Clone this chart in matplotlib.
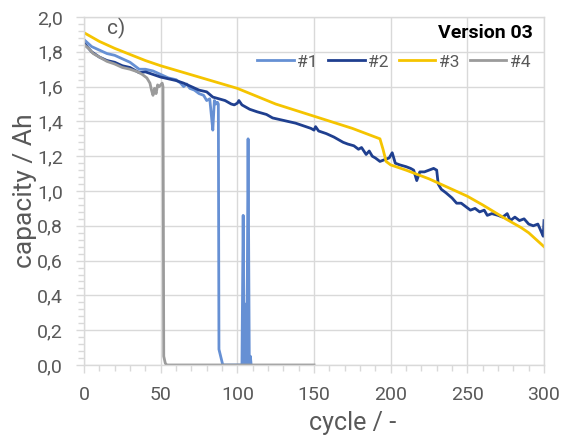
import numpy as np
import matplotlib
matplotlib.use("Agg")
from matplotlib import pyplot as plt
from matplotlib.ticker import MultipleLocator, FuncFormatter

# cell #1 (light blue)
c1_cycle = [0, 5, 10, 15, 20, 25, 30, 36, 40, 45, 50, 55, 60, 63, 65, 67, 69, 72, 75, 78,
            80, 82, 83, 84, 85, 86, 87, 87.6, 88, 90.5, 103, 103.8, 104.5, 105.5, 106.2,
            107, 107.8, 108.5, 109]
c1_cap = [1.87, 1.83, 1.81, 1.79, 1.78, 1.76, 1.74, 1.70, 1.70, 1.69, 1.67, 1.65, 1.64,
          1.62, 1.60, 1.615, 1.59, 1.58, 1.56, 1.55, 1.52, 1.53, 1.44, 1.35, 1.52, 1.50,
          1.51, 1.50, 0.09, 0.0, 0.0, 0.86, 0.0, 0.35, 0.0, 1.30, 0.0, 0.05, 0.0]

# cell #2 (dark blue)
c2_cycle = [0, 5, 10, 15, 20, 25, 30, 36, 40, 45, 50, 55, 60, 65, 70, 75, 80, 84, 88, 92,
            96, 98, 100, 101, 103, 108, 113, 119, 123, 128, 133, 138, 143, 148, 150, 151,
            153, 158, 163, 169, 172, 176, 179, 181, 184, 186, 188, 190, 193, 196, 199, 201,
            203, 206, 210, 213, 215, 217, 219, 222, 225, 228, 230, 231, 233, 236, 240, 243,
            246, 249, 252, 255, 258, 261, 263, 266, 270, 273, 276, 278, 281, 284, 287, 290,
            293, 296, 298, 299.5, 300]
c2_cap = [1.85, 1.80, 1.77, 1.75, 1.74, 1.72, 1.71, 1.68, 1.685, 1.67, 1.655, 1.645, 1.635,
          1.62, 1.60, 1.58, 1.57, 1.54, 1.53, 1.52, 1.50, 1.495, 1.505, 1.52, 1.495, 1.47,
          1.455, 1.44, 1.42, 1.41, 1.40, 1.39, 1.375, 1.36, 1.35, 1.37, 1.345, 1.33, 1.31,
          1.28, 1.27, 1.26, 1.24, 1.25, 1.21, 1.23, 1.20, 1.19, 1.17, 1.18, 1.19, 1.22,
          1.16, 1.15, 1.14, 1.13, 1.12, 1.06, 1.11, 1.11, 1.12, 1.13, 1.12, 1.04, 1.01,
          0.99, 0.96, 0.93, 0.93, 0.91, 0.89, 0.90, 0.88, 0.89, 0.86, 0.87, 0.86, 0.85,
          0.87, 0.83, 0.85, 0.83, 0.84, 0.81, 0.80, 0.81, 0.77, 0.74, 0.83]

# cell #3 (yellow)
c3_cycle = [0, 10, 20, 30, 40, 50, 75, 100, 125, 150, 175, 193, 195, 197, 200, 210, 225,
            240, 250, 260, 275, 285, 290, 295, 300]
c3_cap = [1.91, 1.86, 1.82, 1.785, 1.75, 1.72, 1.655, 1.59, 1.50, 1.43, 1.36, 1.30, 1.24,
          1.17, 1.15, 1.12, 1.07, 1.01, 0.97, 0.92, 0.84, 0.79, 0.76, 0.72, 0.68]

# cell #4 (grey)
c4_cycle = [0, 3, 6, 10, 15, 20, 25, 30, 35, 38, 41, 43, 44, 45, 46, 47, 48, 49, 50, 51,
            51.5, 52, 53, 54, 150]
c4_cap = [1.84, 1.82, 1.79, 1.77, 1.745, 1.73, 1.71, 1.70, 1.685, 1.67, 1.65, 1.62, 1.58,
          1.55, 1.59, 1.56, 1.61, 1.60, 1.61, 1.62, 1.60, 0.05, 0.01, 0.0, 0.0]

labels = ["#1", "#2", "#3", "#4"]
colors = ["#6690d4", "#1f3f8f", "#f5c400", "#9b9b9b"]

plt.rcParams['font.family'] = ['Roboto', 'DejaVu Sans']
grey = "#595959"
light = "#d9d9d9"

fig = plt.figure(figsize=(5.62, 4.37), dpi=100)
ax = fig.add_axes([0.1495, 0.1648, 0.8185, 0.7962])

series = [(c1_cycle, c1_cap), (c2_cycle, c2_cap), (c3_cycle, c3_cap), (c4_cycle, c4_cap)]
for (x, y), lab, col in zip(series, labels, colors):
    ax.plot(x, y, color=col, lw=2, label=lab, solid_joinstyle='round')

ax.set_xlim(0, 300)
ax.set_ylim(0, 2.0)
ax.xaxis.set_major_locator(MultipleLocator(50))
ax.xaxis.set_minor_locator(MultipleLocator(10))
ax.yaxis.set_major_locator(MultipleLocator(0.2))
ax.yaxis.set_minor_locator(MultipleLocator(0.04))
ax.yaxis.set_major_formatter(FuncFormatter(lambda v, p: f"{v:.1f}".replace('.', ',')))
ax.grid(True, which='major', color=light, lw=1)
ax.set_axisbelow(True)
for s in ax.spines.values():
    s.set_color(light)
    s.set_linewidth(1)
ax.tick_params(which='both', colors=light, labelcolor=grey, labelsize=14)
ax.tick_params(which='major', length=6, width=1, pad=9)
ax.tick_params(which='minor', length=4, width=1)

ax.set_xlabel("cycle / -", fontsize=18, color=grey, labelpad=5, x=0.585)
ax.set_ylabel("capacity / Ah", fontsize=19, color=grey, labelpad=0)

ax.text(0.05, 0.966, "c)", transform=ax.transAxes, fontsize=15, color=grey,
        va='center', ha='left')
ax.text(0.976, 0.954, "Version 03", transform=ax.transAxes, fontsize=14,
        fontweight='bold', color='black', ha='right', va='center')
ax.legend(loc='center right', bbox_to_anchor=(0.985, 0.871), ncol=4, frameon=False,
          fontsize=12.5, handlelength=2.1, handletextpad=0.2, columnspacing=0.6,
          labelcolor=grey, borderaxespad=0)

fig.savefig("out.png", dpi=100)
